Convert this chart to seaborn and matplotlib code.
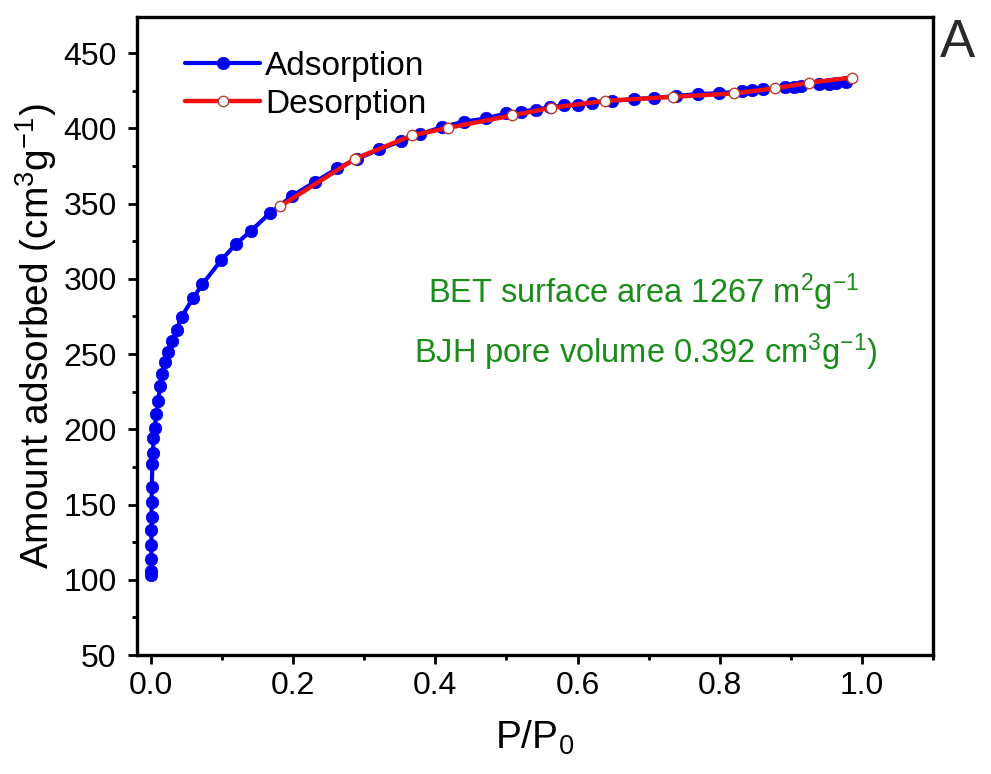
import matplotlib
matplotlib.use("Agg")
import matplotlib.pyplot as plt
import seaborn as sns
import pandas as pd

# ---- data ----
ads_p = [0.0003, 0.0004, 0.0005, 0.0006, 0.0007, 0.0008, 0.0009, 0.0012, 0.0019,
         0.0028, 0.0035, 0.0052, 0.0075, 0.0103, 0.0130, 0.0150, 0.0197, 0.0240,
         0.0290, 0.0360, 0.0430, 0.0590, 0.0720, 0.0990, 0.1190, 0.1400, 0.1680,
         0.1990, 0.2310, 0.2620, 0.2900, 0.3210, 0.3510, 0.3790, 0.4100, 0.4400,
         0.4710, 0.4990, 0.5200, 0.5410, 0.5610, 0.5810, 0.6010, 0.6210, 0.6490,
         0.6790, 0.7080, 0.7380, 0.7690, 0.7990, 0.8320, 0.8460, 0.8610, 0.8920,
         0.9040, 0.9140, 0.9400, 0.9540, 0.9630, 0.9770]
ads_v = [103, 106, 114, 123, 133, 142, 152, 162, 177,
         184, 194, 201, 210, 219, 229, 237, 245, 251.5,
         258.6, 266, 274.8, 287, 296.3, 312.5, 322.9, 331.7, 343.9,
         355.3, 364.5, 373.4, 379.7, 386, 391.5, 396.2, 401, 404.4,
         406.6, 409.9, 411, 412.5, 414, 415.4, 415.8, 417, 418.3,
         419.4, 420.3, 421.5, 422.8, 423.4, 424.7, 425.4, 426, 427.2,
         427.6, 428.3, 429.4, 429.8, 430.3, 430.9]

des_p = [0.182, 0.287, 0.367, 0.418, 0.508, 0.563, 0.639, 0.734, 0.820,
         0.878, 0.925, 0.986]
des_v = [348.3, 379.8, 395.3, 400.4, 408.6, 413.7, 418.3, 421.0, 423.2,
         426.7, 430.3, 433.8]

series_labels = ["Adsorption", "Desorption"]
xticks = [0.0, 0.2, 0.4, 0.6, 0.8, 1.0]
yticks = [50, 100, 150, 200, 250, 300, 350, 400, 450]
note1 = "BET surface area 1267 m$^{2}$g$^{-1}$"
note2 = "BJH pore volume 0.392 cm$^{3}$g$^{-1}$)"

ads = pd.DataFrame({"p": ads_p, "v": ads_v})
des = pd.DataFrame({"p": des_p, "v": des_v})

sns.set_style("ticks")
plt.rcParams["font.family"] = ["Liberation Sans", "DejaVu Sans"]
plt.rcParams["mathtext.fontset"] = "custom"
plt.rcParams["mathtext.rm"] = "Liberation Sans"
plt.rcParams["mathtext.it"] = "Liberation Sans"
plt.rcParams["mathtext.default"] = "regular"
plt.rcParams["text.color"] = "black"
plt.rcParams["axes.labelcolor"] = "black"
plt.rcParams["xtick.color"] = "black"
plt.rcParams["ytick.color"] = "black"

fig = plt.figure(figsize=(9.91, 7.74), dpi=100)
ax = fig.add_axes([0.138, 0.1537, 0.8035, 0.8243])

blue = "#0000F0"
red = "#F01010"
sns.lineplot(data=ads, x="p", y="v", ax=ax, color=blue, lw=3.0, marker="o",
             markersize=9, markerfacecolor=blue, markeredgecolor=blue,
             markeredgewidth=0.5, estimator=None, sort=False,
             label=series_labels[0], zorder=3)
sns.lineplot(data=des, x="p", y="v", ax=ax, color=red, lw=3.2, marker="o",
             markersize=7.5, markerfacecolor="white", markeredgecolor="#C0392B",
             markeredgewidth=1.0, estimator=None, sort=False,
             label=series_labels[1], zorder=4)

ax.set_xlim(-0.02, 1.1)
ax.set_ylim(50, 474)
ax.set_xticks(xticks)
ax.set_xticklabels([f"{t:.1f}" for t in xticks])
ax.set_yticks(yticks)
ax.set_xticks([0.1, 0.3, 0.5, 0.7, 0.9, 1.1], minor=True)
ax.set_yticks([75, 125, 175, 225, 275, 325, 375, 425], minor=True)

for s in ax.spines.values():
    s.set_linewidth(2.4)
    s.set_color("black")
ax.tick_params(axis="both", which="major", direction="out", length=6.5,
               width=2.0, labelsize=23, pad=5)
ax.tick_params(axis="both", which="minor", direction="out", length=3.6,
               width=2.0)
ax.tick_params(axis="y", which="major", pad=8)
ax.tick_params(top=False, right=False, which="both")

ax.set_xlabel("P/P$_{0}$", fontsize=28, labelpad=13)
ax.set_ylabel("Amount adsorbed (cm$^{3}$g$^{-1}$)", fontsize=28, labelpad=3)

leg = ax.legend(loc="upper left", bbox_to_anchor=(0.044, 0.968), frameon=False,
                fontsize=24, handlelength=2.25, handletextpad=0.15,
                labelspacing=0.22, borderaxespad=0.0)

ax.text(0.693, 291, note1, color="#1A8C1A", fontsize=23.5, ha="center", va="center")
ax.text(0.696, 251, note2, color="#1A8C1A", fontsize=23.5, ha="center", va="center")
fig.text(0.966, 0.944, "A", fontsize=38, ha="center", va="center", color="#2A2A2A")

fig.savefig("out.png", dpi=100)
